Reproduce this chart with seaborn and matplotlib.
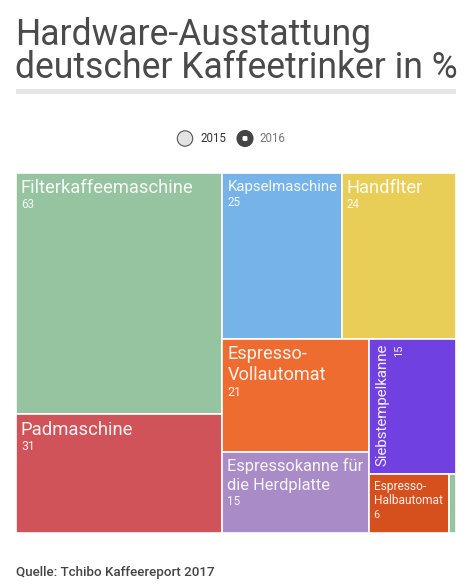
import matplotlib
matplotlib.use("Agg")
import matplotlib.pyplot as plt
from matplotlib.patches import Rectangle, Circle, FancyBboxPatch
import seaborn as sns

sns.set_theme(style="white")
plt.rcParams["font.family"] = ["Roboto", "DejaVu Sans"]

# Data (2016, share of coffee drinkers in %)
categories = [
    "Filterkaffeemaschine",
    "Padmaschine",
    "Kapselmaschine",
    "Handflter",
    "Espresso-\nVollautomat",
    "Espressokanne für\ndie Herdplatte",
    "Siebstempelkanne",
    "Espresso-\nHalbautomat",
    "Sonstige",
]
values = [63, 31, 25, 24, 21, 15, 15, 6, 0.5]
years = ["2015", "2016"]

colors = ["#96c3a0", "#cf5358", "#75b3e8", "#e8ce57", "#ee6c30",
          "#a98cc7", "#7040e0", "#d6501e", "#96c3a0"]
# (label size pt, value size pt, rotated, show text)
styles = [
    (13.2, 8.4, False, True),
    (13.3, 8.8, False, True),
    (10.8, 8.4, False, True),
    (13.2, 8.4, False, True),
    (13.1, 9.0, False, True),
    (11.8, 8.4, False, True),
    (10.8, 8.0, True, True),
    (8.6, 7.8, False, True),
    (8.0, 8.0, False, False),
]


def worst(row, side):
    s = sum(row)
    return max(max(side * side * r / (s * s), s * s / (side * side * r)) for r in row)


def squarify(vals, x, y, w, h):
    scale = w * h / sum(vals)
    areas = [v * scale for v in vals]
    rects = []
    i = 0
    while i < len(areas):
        side = min(w, h)
        row = [areas[i]]
        j = i + 1
        while j < len(areas) and worst(row + [areas[j]], side) <= worst(row, side):
            row.append(areas[j])
            j += 1
        s = sum(row)
        if w >= h:
            cw = s / h
            yy = y
            for a in row:
                rects.append((x, yy, cw, a / cw))
                yy += a / cw
            x += cw
            w -= cw
        else:
            rh = s / w
            xx = x
            for a in row:
                rects.append((xx, y, a / rh, rh))
                xx += a / rh
            y += rh
            h -= rh
        i = j
    return rects


W, H = 472, 588
fig = plt.figure(figsize=(W / 100, H / 100), dpi=100)

# page layer in pixel coordinates
page = fig.add_axes([0, 0, 1, 1])
page.set_xlim(0, W)
page.set_ylim(H, 0)
page.axis("off")

page.text(15, 45, "Hardware-Ausstattung", fontsize=25.6, color="#4a4a4a",
          va="baseline", ha="left")
page.text(15, 78, "deutscher Kaffeetrinker in %", fontsize=25.6, color="#4a4a4a",
          va="baseline", ha="left")
page.add_patch(Rectangle((16, 89), 440, 5, color="#e6e6e6", lw=0))

# year selector
page.add_patch(Circle((185, 138.5), 7.7, facecolor="#e3e3e3", edgecolor="#555555", lw=0.8))
page.text(200, 142.5, years[0], fontsize=8.3, color="#333333", va="baseline", ha="left")
page.add_patch(Circle((245, 138.5), 8, facecolor="#444444", edgecolor="#444444", lw=0.8))
page.add_patch(FancyBboxPatch((242.5, 136), 5, 5, boxstyle="round,pad=0,rounding_size=1.5",
                              facecolor="white", edgecolor="none"))
page.text(259, 142.5, years[1], fontsize=8.3, color="#777777", va="baseline", ha="left")

page.text(16, 576, "Quelle: Tchibo Kaffeereport 2017", fontsize=9.6, color="#444444",
          fontweight="medium", va="baseline", ha="left")

# treemap
ax = fig.add_axes([16 / W, 55 / H, 440 / W, 360 / H])
ax.set_xlim(0, 440)
ax.set_ylim(360, 0)
ax.axis("off")

rects = squarify(values, 0, 0, 440, 360)
for (x, y, w, h), name, val, col, st in zip(rects, categories, values, colors, styles):
    ax.add_patch(Rectangle((x, y), w, h, facecolor=col, edgecolor="white", lw=1.2))
    lab_pt, val_pt, rotated, show = st
    if not show:
        continue
    lab_px = lab_pt / 0.72
    val_px = val_pt / 0.72
    vtxt = f"{val:g}"
    if rotated:
        ax.text(x + 7 + 0.72 * lab_px, y + 5, name, fontsize=lab_pt, color="white",
                alpha=0.92, rotation=90, rotation_mode="anchor", ha="right", va="baseline")
        ax.text(x + 7 + 0.72 * lab_px + 1.45 * val_px, y + 6, vtxt, fontsize=val_pt,
                color="white", alpha=0.92, rotation=90, rotation_mode="anchor",
                ha="right", va="baseline")
        continue
    base = y + 7 + 0.72 * lab_px
    for k, line in enumerate(name.split("\n")):
        if k:
            base += 1.18 * lab_px
        ax.text(x + 5, base, line, fontsize=lab_pt, color="white", alpha=0.92,
                va="baseline", ha="left")
    ax.text(x + 5, base + 1.3 * val_px, vtxt, fontsize=val_pt, color="white", alpha=0.92,
            va="baseline", ha="left")

fig.savefig("out.png", dpi=100)
